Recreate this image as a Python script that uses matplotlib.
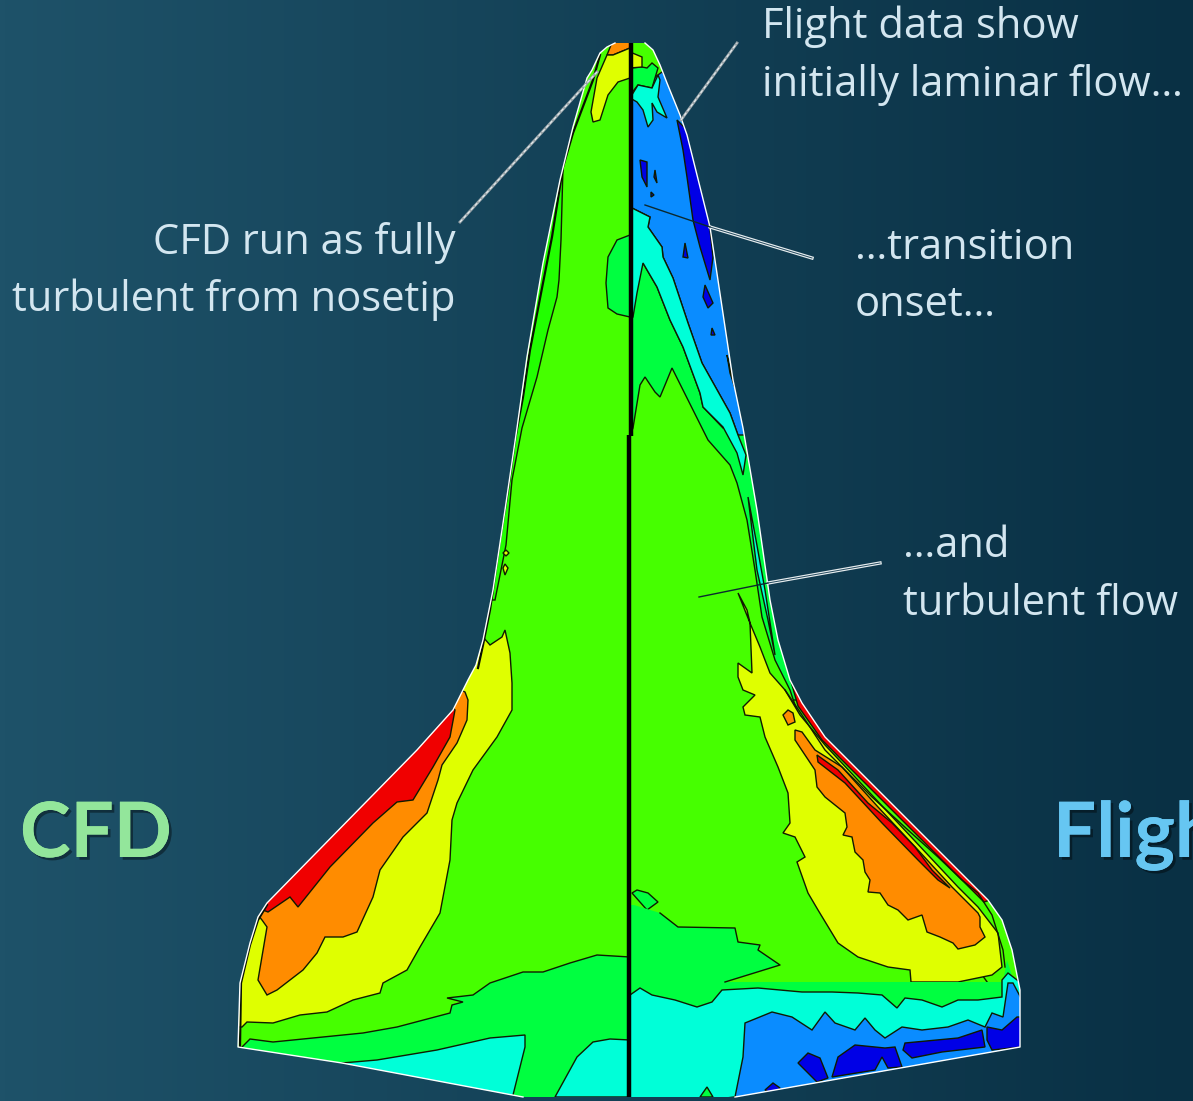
import matplotlib
matplotlib.use("Agg")
import matplotlib.pyplot as plt
import matplotlib.patheffects as pe
from matplotlib.patches import Polygon
import numpy as np

# Colours of the contour levels
lime = "#46ff00"
band_green = "#22ff00"
spring = "#00ff40"
cyan = "#00ffd8"
blue = "#0a8cff"
navy = "#0000e6"
yellow = "#dfff00"
orange = "#ff8c00"
red = "#f00000"

# Body outline, picture pixels
left_edge = [(630, 43), (615, 43), (607, 47), (600, 53), (592, 70), (587, 78), (573, 127), (560, 180), (543, 263),
             (527, 357), (517, 428), (505, 510), (493, 590), (483, 640), (476, 665), (468, 680), (453, 710),
             (417, 750), (267, 903), (258, 917), (250, 943), (240, 983), (238, 1047), (342, 1063), (523, 1097),
             (630, 1097)]
right_edge = [(630, 43), (645, 43), (653, 50), (660, 65), (667, 83), (680, 115), (687, 135), (710, 227), (733, 380),
              (743, 428), (757, 510), (770, 600), (778, 640), (790, 680), (802, 703), (825, 737), (988, 900),
              (1002, 920), (1012, 950), (1020, 990), (1020, 1047), (735, 1097), (630, 1097)]

# CFD half
l_orange_tip = [(630, 40), (630, 48), (613, 55), (607, 55), (613, 40)]
l_nose_yellow = [(630, 48), (630, 78), (618, 82), (608, 95), (600, 120), (593, 122), (591, 112), (597, 78), (607, 55), (613, 55)]
l_oval = [(630, 235), (617, 240), (608, 257), (606, 283), (608, 308), (617, 314), (630, 317)]
l_band = [(573, 120), (563, 167), (561, 240), (559, 280), (557, 297), (548, 330), (537, 377), (522, 428), (512, 480),
          (506, 545), (495, 600), (490, 600), (500, 480), (520, 380), (540, 260), (560, 170)]
l_band1 = [(600, 55), (593, 80), (573, 133), (563, 167), (552, 237), (543, 283), (530, 350), (523, 397), (515, 440),
           (508, 490), (500, 540), (490, 610), (483, 645), (478, 668)]
l_specks = [[(506, 550), (509, 553), (506, 556), (503, 553)], [(505, 564), (508, 568), (505, 575), (503, 568)]]
l_yellow = [(483, 637), (490, 645), (502, 637), (505, 630), (510, 653), (512, 683), (512, 710), (497, 737), (473, 770),
            (457, 803), (452, 820), (450, 860), (440, 913), (420, 947), (407, 970), (383, 983), (380, 993), (353, 1000),
            (327, 1012), (300, 1015), (273, 1023), (247, 1022), (242, 1027), (225, 1027), (225, 900), (440, 680), (470, 640)]
l_orange = [(465, 692), (468, 700), (467, 720), (457, 743), (442, 765), (438, 780), (427, 813), (403, 837),
            (380, 870), (373, 897), (357, 932), (343, 937), (325, 937), (317, 953), (303, 970), (277, 990),
            (267, 995), (258, 980), (267, 927), (262, 920), (250, 905), (440, 680)]
l_red = [(455, 710), (450, 737), (433, 767), (413, 800), (397, 802), (373, 823), (330, 867), (298, 907),
         (290, 897), (268, 912), (250, 905), (440, 690)]
l_wing_edge = [(267, 905), (258, 920), (250, 945), (241, 983), (240, 1047)]
l_spring = [(630, 957), (597, 955), (570, 963), (543, 972), (523, 972), (490, 983), (473, 995), (447, 998),
            (463, 1002), (452, 1005), (450, 1013), (397, 1027), (363, 1033), (313, 1038), (273, 1042), (250, 1039),
            (242, 1047), (230, 1060), (520, 1110), (630, 1110)]
l_cyan1 = [(342, 1063), (377, 1060), (437, 1050), (490, 1038), (525, 1035), (525, 1047), (513, 1095), (513, 1110), (342, 1075)]
l_cyan2 = [(555, 1097), (577, 1057), (593, 1042), (610, 1039), (630, 1040), (630, 1097)]

# Flight half, upper part
r_spring_mid = [(630, 300), (643, 263), (657, 287), (670, 320), (683, 347), (700, 393), (703, 407), (723, 428),
                (760, 430), (800, 700), (630, 700)]
r_lime = [(630, 435), (633, 428), (640, 385), (645, 377), (655, 392), (660, 397), (665, 385), (672, 368),
          (697, 418), (708, 440), (730, 465), (737, 483), (747, 520), (755, 570), (762, 617), (775, 660),
          (790, 690), (800, 720), (1000, 1000), (630, 1000)]
r_blue = [(630, 95), (662, 72), (690, 100), (750, 435), (738, 435), (730, 413), (702, 363), (688, 323), (673, 278),
          (663, 257), (662, 247), (648, 227), (650, 217), (630, 207)]
r_cyan_low = [(630, 207), (650, 217), (648, 227), (662, 247), (663, 257), (673, 278), (688, 323), (702, 363),
              (730, 413), (738, 435), (746, 455), (743, 475), (737, 453), (723, 427), (703, 407), (700, 393),
              (683, 347), (670, 320), (657, 287), (643, 263), (637, 293), (633, 317), (630, 317)]
r_cyan_sliver = [(748, 497), (756, 540), (765, 590), (775, 655), (768, 620), (757, 570)]
r_spring_top = [(630, 68), (642, 67), (647, 68), (652, 63), (658, 68), (652, 88), (638, 85), (630, 95)]
r_cyan_top = [(630, 98), (638, 85), (652, 88), (658, 75), (660, 80), (658, 97), (667, 118), (657, 112), (652, 103),
              (653, 120), (648, 127), (643, 110), (637, 102)]
r_yellow_tip = [(630, 52), (642, 57), (642, 67), (630, 68)]
r_navy_edge = [(677, 120), (687, 130), (707, 203), (713, 257), (710, 280), (700, 247), (693, 220), (687, 177), (683, 150)]
r_navy_spots = [[(640, 160), (647, 162), (647, 187), (642, 177)],
                [(655, 170), (657, 183), (654, 177)],
                [(651, 192), (654, 195), (651, 197)],
                [(685, 243), (688, 258), (683, 257)],
                [(705, 285), (713, 303), (708, 308), (703, 297)],
                [(712, 328), (715, 335), (711, 335)],
                [(727, 355), (735, 388), (730, 373)]]

# Flight half, wing
r_yellow = [(738, 593), (747, 610), (750, 623), (752, 673), (738, 663), (738, 677), (743, 690), (755, 695), (743, 707),
            (745, 715), (760, 717), (765, 737), (778, 767), (788, 793), (790, 823), (783, 833), (795, 837), (805, 857),
            (797, 862), (808, 893), (818, 910), (838, 943), (858, 957), (888, 967), (910, 970), (911, 982), (958, 982),
            (992, 975), (1002, 967), (998, 933), (978, 907), (958, 887), (825, 745), (800, 715), (785, 690), (770, 673),
            (760, 647), (750, 623)]
r_orange_blob = [(788, 710), (793, 713), (795, 722), (788, 725), (783, 715)]
r_orange = [(795, 730), (802, 732), (815, 750), (842, 767), (878, 807), (918, 850), (952, 887), (978, 913),
            (980, 917), (980, 927), (985, 937), (975, 945), (958, 949), (953, 943), (940, 937), (927, 932),
            (922, 915), (908, 920), (898, 910), (888, 905), (880, 893), (868, 892), (870, 880), (865, 872),
            (863, 860), (855, 852), (852, 837), (843, 835), (847, 827), (845, 813), (825, 797), (817, 787),
            (815, 770), (795, 740)]
r_red_strip = [(817, 755), (838, 770), (868, 803), (892, 823), (915, 847), (932, 870), (950, 888), (938, 880),
               (918, 860), (882, 823), (845, 783), (818, 762)]
r_red_edge = [(790, 678), (802, 700), (825, 734), (990, 900), (984, 902), (822, 740), (798, 706)]
r_edge_line = [(785, 690), (800, 712), (825, 750), (842, 767), (872, 797), (908, 830), (938, 857), (962, 880),
               (978, 893), (992, 915), (1003, 950), (1005, 967)]
r_spring_blob = [(637, 890), (648, 893), (658, 902), (647, 910), (632, 893)]
r_spring_low = [(630, 905), (634, 905), (660, 913), (678, 927), (735, 928), (738, 942), (760, 945), (758, 950),
                (780, 965), (725, 982), (1003, 982), (1007, 960), (1015, 985), (1015, 1010), (630, 1010)]
r_cyan = [(630, 995), (640, 988), (652, 995), (675, 1000), (697, 1007), (712, 1002), (722, 990), (758, 988),
          (802, 992), (832, 992), (858, 993), (882, 995), (897, 1008), (905, 998), (922, 1000), (942, 1007),
          (958, 1000), (978, 1000), (1002, 997), (1002, 980), (1008, 973), (1030, 990), (1030, 1060), (630, 1110)]
r_blue_low = [(735, 1097), (743, 1057), (745, 1023), (772, 1012), (792, 1017), (812, 1030), (825, 1012), (835, 1023),
              (855, 1030), (865, 1018), (875, 1030), (885, 1038), (902, 1027), (922, 1030), (948, 1027), (968, 1020),
              (985, 1027), (992, 1013), (1003, 1017), (1008, 983), (1013, 983), (1022, 1000), (1030, 1050), (735, 1105)]
r_navy_low = [[(987, 1027), (1002, 1030), (1017, 1017), (1022, 1017), (1022, 1047), (992, 1050), (987, 1040)],
              [(905, 1043), (958, 1038), (982, 1030), (985, 1047), (942, 1052), (912, 1058), (903, 1050)],
              [(832, 1077), (838, 1057), (855, 1045), (885, 1048), (895, 1047), (902, 1067), (888, 1068), (882, 1057), (875, 1070)],
              [(798, 1063), (808, 1053), (820, 1058), (828, 1078), (817, 1082)],
              [(765, 1090), (773, 1083), (780, 1088), (775, 1095)]]
r_spring_spot = [(700, 1097), (707, 1087), (713, 1097)]

# Annotation leaders
leaders_grey = [[(460, 222), (597, 72)], [(681, 120), (737, 43)]]
leaders_double = [[(710, 227), (812, 258)], [(768, 583), (880, 563)]]
leaders_dark = [[(645, 205), (710, 227)], [(699, 597), (768, 583)]]

labels = ["Flight data show", "initially laminar flow…", "CFD run as fully", "turbulent from nosetip",
          "…transition", "onset…", "…and", "turbulent flow"]
text_color = "#d3e6f0"
font = "Open Sans"

fig = plt.figure(figsize=(11.93, 11.01), dpi=100)
ax = fig.add_axes([0, 0, 1, 1])
ax.set_xlim(0, 1193)
ax.set_ylim(1101, 0)
ax.axis("off")

# Background gradient
grad = np.linspace(0, 1, 256).reshape(1, -1, 1)
c0 = np.array([30, 82, 105]) / 255
c1 = np.array([9, 48, 68]) / 255
ax.imshow(c0 + (c1 - c0) * grad, extent=[0, 1193, 1101, 0], aspect="auto", zorder=0)


def fill(poly, color, clip, edge=True, z=2):
    p = Polygon(poly, closed=True, facecolor=color, edgecolor="#101a00" if edge else "none", lw=1.0, zorder=z)
    ax.add_patch(p)
    p.set_clip_path(clip)


def line(pts, clip, lw=1.0, color="#101a00", z=3):
    xs, ys = zip(*pts)
    l, = ax.plot(xs, ys, color=color, lw=lw, zorder=z)
    l.set_clip_path(clip)


left_clip = Polygon(left_edge, closed=True, transform=ax.transData)
right_clip = Polygon(right_edge, closed=True, transform=ax.transData)

# CFD half
fill(left_edge, lime, left_clip, edge=False, z=1)
fill(l_band, band_green, left_clip)
for poly, col in [(l_orange_tip, orange), (l_nose_yellow, yellow), (l_oval, spring), (l_yellow, yellow),
                  (l_orange, orange), (l_red, red), (l_spring, spring), (l_cyan1, cyan), (l_cyan2, cyan)]:
    fill(poly, col, left_clip)
for poly in l_specks:
    fill(poly, yellow, left_clip)
line(l_band1, left_clip, lw=1.6, color="#0a1000")
line(l_wing_edge, left_clip, lw=1.6, color="#0a1000")

# Flight half
fill(right_edge, lime, right_clip, edge=False, z=1)
for poly, col in [(r_spring_mid, spring), (r_blue, blue), (r_cyan_low, cyan), (r_lime, lime), (r_cyan_sliver, cyan),
                  (r_spring_top, spring), (r_cyan_top, cyan), (r_yellow_tip, yellow)]:
    fill(poly, col, right_clip)
fill(r_navy_edge, navy, right_clip)
for poly in r_navy_spots:
    fill(poly, navy, right_clip)
fill(r_yellow, yellow, right_clip)
fill(r_orange_blob, orange, right_clip)
fill(r_orange, orange, right_clip)
fill(r_red_strip, red, right_clip)
fill(r_red_edge, red, right_clip)
line(r_edge_line, right_clip)
fill(r_spring_blob, spring, right_clip)
fill(r_spring_low, spring, right_clip, edge=False)
line(r_spring_low[2:10], right_clip)
fill(r_cyan, cyan, right_clip)
fill(r_blue_low, blue, right_clip)
for poly in r_navy_low:
    fill(poly, navy, right_clip)
fill(r_spring_spot, spring, right_clip)

# White outline and centre line
for edge_pts in (left_edge[1:-1], right_edge[1:-1]):
    xs, ys = zip(*edge_pts)
    ax.plot(xs, ys, color="white", lw=1.0, zorder=5)
ax.plot([630.5, 630.5], [43, 436], color="black", lw=3.2, zorder=6, solid_capstyle="butt")
ax.plot([628.5, 628.5], [435, 1097], color="black", lw=3.2, zorder=6, solid_capstyle="butt")

# Leaders
for seg in leaders_grey:
    xs, ys = zip(*seg)
    ax.plot(xs, ys, color="#9aa5aa", lw=2.0, zorder=7)
    ax.plot(xs, ys, color="#e8eef0", lw=0.8, ls=(0, (3, 2)), zorder=8)
for seg in leaders_double:
    xs, ys = zip(*seg)
    ax.plot(xs, ys, color="#e8eef0", lw=2.4, zorder=7)
    ax.plot(xs, ys, color="#23485c", lw=0.7, zorder=8)
for seg in leaders_dark:
    xs, ys = zip(*seg)
    ax.plot(xs, ys, color="#0a2a30", lw=1.0, zorder=7)

# Text
ax.text(762, 38, labels[0], color=text_color, fontsize=30, family=font, zorder=9)
ax.text(762, 96, labels[1], color=text_color, fontsize=30, family=font, zorder=9)
ax.text(456, 254, labels[2], color=text_color, fontsize=30, family=font, ha="right", zorder=9)
ax.text(456, 311, labels[3], color=text_color, fontsize=30, family=font, ha="right", zorder=9)
ax.text(855, 259, labels[4], color=text_color, fontsize=30, family=font, zorder=9)
ax.text(855, 316, labels[5], color=text_color, fontsize=30, family=font, zorder=9)
ax.text(903, 557, labels[6], color=text_color, fontsize=30, family=font, zorder=9)
ax.text(903, 615, labels[7], color=text_color, fontsize=30, family=font, zorder=9)

shadow = [pe.withSimplePatchShadow(offset=(2, -2), shadow_rgbFace="black", alpha=0.4), pe.Normal()]
ax.text(20, 857, "CFD", color="#93e69b", fontsize=55, family="Lato", weight="bold",
        path_effects=shadow, zorder=9)
ax.text(1053, 857, "Flight", color="#66c6f2", fontsize=55, family="Lato", weight="bold",
        path_effects=shadow, zorder=9, clip_on=True)

fig.savefig("out.png", dpi=100)
